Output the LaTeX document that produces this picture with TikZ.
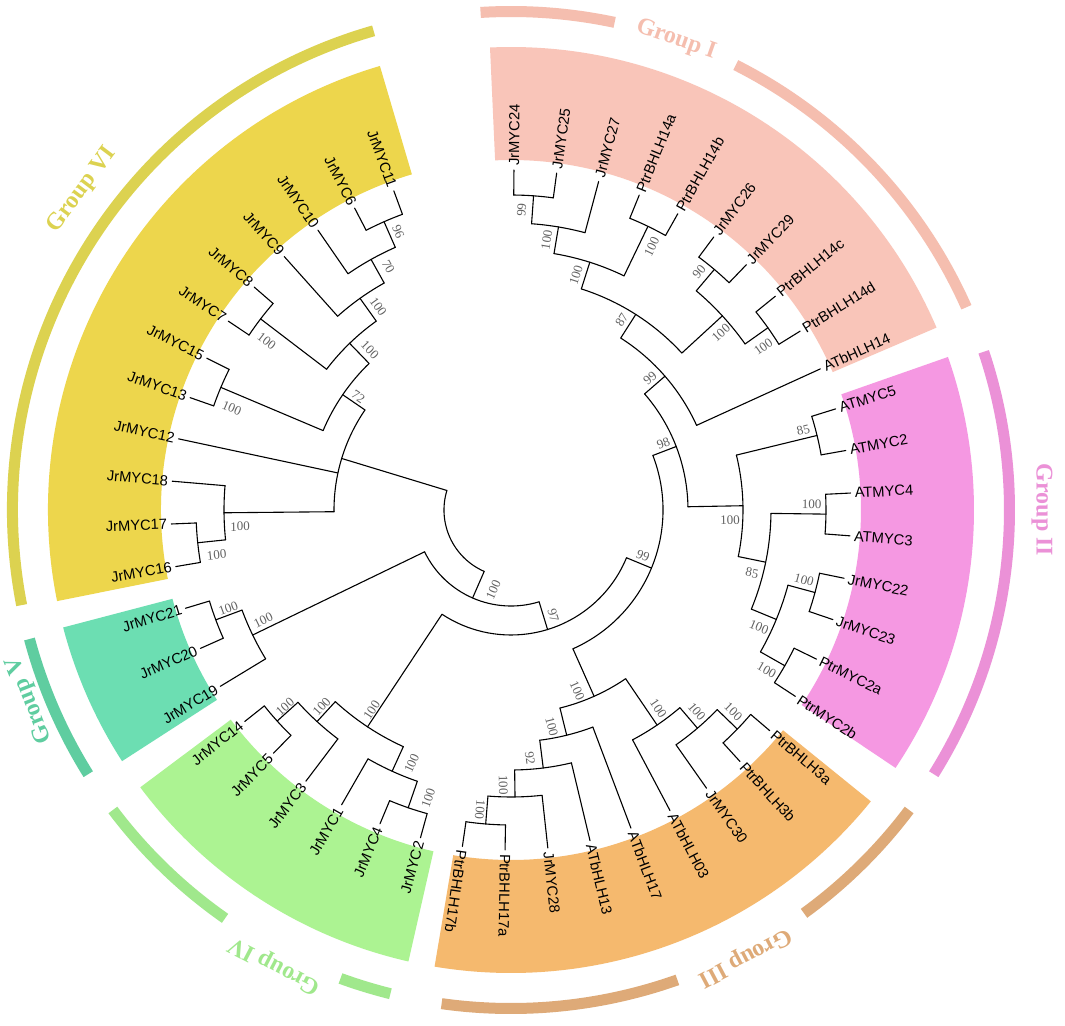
\documentclass[tikz,border=0pt]{standalone}
\usepackage{fontspec}
\setmainfont{Liberation Serif}
\newfontfamily\arial{Liberation Sans}
\definecolor{cI}{RGB}{249,197,185}
\definecolor{cII}{RGB}{245,152,226}
\definecolor{cIII}{RGB}{245,185,110}
\definecolor{cIV}{RGB}{172,243,146}
\definecolor{cV}{RGB}{108,222,178}
\definecolor{cVI}{RGB}{237,214,76}
\definecolor{bI}{RGB}{245,190,175}
\definecolor{bII}{RGB}{235,145,215}
\definecolor{bIII}{RGB}{222,170,120}
\definecolor{bIV}{RGB}{160,232,140}
\definecolor{bV}{RGB}{95,205,160}
\definecolor{bVI}{RGB}{220,210,80}
\newcommand\A[1]{89.5-7.22*(#1)}
\newcommand\nd[5]{%
  \draw[br] ({\A{#1}}:#3pt) -- ({\A{#1}}:#2pt);
  \draw[br] ({\A{#4}}:#2pt) arc[start angle={\A{#4}}, end angle={\A{#5}}, radius=#2pt];}
\newcommand\lfR[4]{%
  \node[leafR, rotate={\A{#2}}] (#1) at ({\A{#2}}:340pt) {#4};
  \draw[br] ({\A{#2}}:#3pt) -- (#1.west);}
\newcommand\lfL[4]{%
  \node[leafL, rotate={\A{#2}+180}] (#1) at ({\A{#2}}:340pt) {#4};
  \draw[br] ({\A{#2}}:#3pt) -- (#1.east);}
\newcommand\bs[5]{%
  \pgfmathsetmacro\bsrot{ifthenelse(#4>26.8,\A{#4}+180,\A{#4})}%
  \node[bst,rotate=\bsrot] (#1) at ({#2-511},{510-#3}) {#5};}
\newcommand\sect[3]{\fill[#1] (#2:350pt) arc[start angle=#2,end angle=#3,radius=350pt] -- (#3:463pt) arc[start angle=#3,end angle=#2,radius=463pt] -- cycle;}
\newcommand\band[3]{\fill[#1] (#2:493pt) arc[start angle=#2,end angle=#3,radius=493pt] -- (#3:504pt) arc[start angle=#3,end angle=#2,radius=504pt] -- cycle;}
\begin{document}
\begin{tikzpicture}[x=1pt,y=1pt,
  br/.style={line width=1.1pt, black, line cap=round, line join=round},
  leafR/.style={anchor=west, inner xsep=4pt, inner ysep=0pt, font=\arial\fontsize{14.7}{16}\selectfont},
  leafL/.style={anchor=east, inner xsep=4pt, inner ysep=0pt, font=\arial\fontsize{14.7}{16}\selectfont},
  bst/.style={inner sep=0pt, text=black!62, font=\fontsize{13}{14}\selectfont},
  grp/.style={inner sep=0pt, font=\bfseries\fontsize{24}{26}\selectfont}]
\useasboundingbox (-511,-515) rectangle (554,510);
\fill[white] (-511,-515) rectangle (554,510);
% coloured sectors
\sect{cI}{23.2}{92.6}
\sect{cII}{-33.85}{19.3}
\sect{cIII}{-99.5}{-39}
\sect{cIV}{-143.2}{-102.8}
\sect{cV}{-165.3}{-147.15}
\sect{cVI}{106.45}{191.35}
% outer bands (gaps where a label sits on the band)
\band{bI}{24}{63.2}
\band{bI}{78}{93.5}
\band{bII}{-32}{18.5}
\band{bIII}{-98}{-70.5}
\band{bIII}{-54}{-37}
\band{bIV}{-143}{-125}
\band{bIV}{-110}{-104}
\band{bV}{-165}{-148}
\band{bVI}{106}{191}
% group labels
\node[grp,text=bI,rotate=-19.4] (gI) at (165,470) {Group I};
\node[grp,text=bII,rotate=-90] (gII) at (531,0) {Group II};
\node[grp,text=bIII,rotate=-152.2] (gIII) at (234,-447) {Group III};
\node[grp,text=bIV,rotate=152.5] (gIV) at (-236,-455) {Group IV};
\node[grp,text=bV,rotate=111.5] (gV) at (-481,-190) {Group V};
\node[grp,text=bVI,rotate=53] (gVI) at (-429,320) {Group VI};
% internal nodes: k r rparent k1 k2
\nd{0.5}{315}{287}{0}{1}
\nd{1.25}{287}{260}{0.5}{2}
\nd{3.5}{315}{260}{3}{4}
\nd{2.375}{260}{232}{1.25}{3.5}
\nd{5.5}{315}{287}{5}{6}
\nd{7.5}{315}{287}{7}{8}
\nd{6.5}{287}{232}{5.5}{7.5}
\nd{4.4375}{232}{204}{2.375}{6.5}
\nd{6.71875}{204}{177}{4.4375}{9}
\nd{9.484375}{177}{152}{6.71875}{12.25}
\nd{10.5}{315}{232}{10}{11}
\nd{12.5}{315}{260}{12}{13}
\nd{14.5}{315}{287}{14}{15}
\nd{16.5}{315}{287}{16}{17}
\nd{15.5}{287}{260}{14.5}{16.5}
\nd{14}{260}{232}{12.5}{15.5}
\nd{12.25}{232}{177}{10.5}{14}
\nd{18.5}{315}{287}{18}{19}
\nd{19.25}{287}{260}{18.5}{20}
\nd{20.125}{260}{204}{19.25}{21}
\nd{25.5}{315}{287}{25}{26}
\nd{24.75}{287}{260}{24}{25.5}
\nd{23.875}{260}{232}{23}{24.75}
\nd{22.9375}{232}{204}{22}{23.875}
\nd{21.53125}{204}{152}{20.125}{22.9375}
\nd{15.5078125}{152}{125}{9.484375}{21.53125}
\nd{27.5}{315}{287}{27}{28}
\nd{28.25}{287}{260}{27.5}{29}
\nd{31.5}{315}{287}{31}{32}
\nd{30.75}{287}{260}{30}{31.5}
\nd{29.5}{260}{125}{28.25}{30.75}
\nd{22.50390625}{125}{96}{15.5078125}{29.5}
\nd{34.5}{315}{287}{34}{35}
\nd{33.75}{287}{96}{33}{34.5}
\nd{28.126953125}{96}{67}{22.50390625}{33.75}
\nd{46.5}{315}{287}{46}{47}
\nd{45.75}{287}{260}{45}{46.5}
\nd{44.875}{260}{232}{44}{45.75}
\nd{42.5}{315}{232}{42}{43}
\nd{43.6875}{232}{204}{42.5}{44.875}
\nd{40.5}{315}{204}{40}{41}
\nd{42.09375}{204}{177}{40.5}{43.6875}
\nd{36.5}{315}{287}{36}{37}
\nd{37.25}{287}{177}{36.5}{38}
\nd{39.671875}{177}{67}{37.25}{42.09375}
\draw[br] ({\A{28.126953125}}:67pt) arc[start angle={\A{28.126953125}}, end angle={\A{39.671875}}, radius=67pt];
% leaves
\lfR{l0}{0}{315}{JrMYC24}
\lfR{l1}{1}{315}{JrMYC25}
\lfR{l2}{2}{287}{JrMYC27}
\lfR{l3}{3}{315}{PtrBHLH14a}
\lfR{l4}{4}{315}{PtrBHLH14b}
\lfR{l5}{5}{315}{JrMYC26}
\lfR{l6}{6}{315}{JrMYC29}
\lfR{l7}{7}{315}{PtrBHLH14c}
\lfR{l8}{8}{315}{PtrBHLH14d}
\lfR{l9}{9}{204}{ATbHLH14}
\lfR{l10}{10}{315}{ATMYC5}
\lfR{l11}{11}{315}{ATMYC2}
\lfR{l12}{12}{315}{ATMYC4}
\lfR{l13}{13}{315}{ATMYC3}
\lfR{l14}{14}{315}{JrMYC22}
\lfR{l15}{15}{315}{JrMYC23}
\lfR{l16}{16}{315}{PtrMYC2a}
\lfR{l17}{17}{315}{PtrMYC2b}
\lfR{l18}{18}{315}{PtrBHLH3a}
\lfR{l19}{19}{315}{PtrBHLH3b}
\lfR{l20}{20}{287}{JrMYC30}
\lfR{l21}{21}{260}{ATbHLH03}
\lfR{l22}{22}{232}{ATbHLH17}
\lfR{l23}{23}{260}{ATbHLH13}
\lfR{l24}{24}{287}{JrMYC28}
\lfR{l25}{25}{315}{PtrBHLH17a}
\lfR{l26}{26}{315}{PtrBHLH17b}
\lfL{l27}{27}{315}{JrMYC2}
\lfL{l28}{28}{315}{JrMYC4}
\lfL{l29}{29}{287}{JrMYC1}
\lfL{l30}{30}{287}{JrMYC3}
\lfL{l31}{31}{315}{JrMYC5}
\lfL{l32}{32}{315}{JrMYC14}
\lfL{l33}{33}{287}{JrMYC19}
\lfL{l34}{34}{315}{JrMYC20}
\lfL{l35}{35}{315}{JrMYC21}
\lfL{l36}{36}{315}{JrMYC16}
\lfL{l37}{37}{315}{JrMYC17}
\lfL{l38}{38}{287}{JrMYC18}
\lfL{l39}{39}{177}{JrMYC12}
\lfL{l40}{40}{315}{JrMYC13}
\lfL{l41}{41}{315}{JrMYC15}
\lfL{l42}{42}{315}{JrMYC7}
\lfL{l43}{43}{315}{JrMYC8}
\lfL{l44}{44}{260}{JrMYC9}
\lfL{l45}{45}{287}{JrMYC10}
\lfL{l46}{46}{315}{JrMYC6}
\lfL{l47}{47}{315}{JrMYC11}
% bootstrap values
\bs{b1}{521.7}{210}{0.5}{99}
\bs{b2}{546.7}{240}{1.25}{100}
\bs{b3}{651.7}{246.7}{3.5}{100}
\bs{b4}{576}{275}{2.375}{100}
\bs{b5}{699}{272}{5.5}{90}
\bs{b6}{763.3}{346.7}{7.5}{100}
\bs{b7}{721}{333}{6.5}{100}
\bs{b8}{621.7}{320}{4.4375}{87}
\bs{b9}{650}{378.3}{6.71875}{99}
\bs{b10}{663.3}{443.3}{9.484375}{98}
\bs{b11}{643}{556}{15.5078125}{99}
\bs{b12}{803.3}{430}{10.5}{85}
\bs{b13}{811.7}{504}{12.5}{100}
\bs{b14}{730}{520}{12.25}{100}
\bs{b15}{752}{573}{14}{85}
\bs{b16}{804}{580}{14.5}{100}
\bs{b17}{759}{627}{15.5}{100}
\bs{b18}{766.7}{670}{16.5}{100}
\bs{b19}{733.3}{711.7}{18.5}{100}
\bs{b20}{696.7}{711.7}{19.25}{100}
\bs{b21}{658.3}{708.3}{20.125}{100}
\bs{b22}{577.3}{690.7}{21.53125}{100}
\bs{b23}{551.7}{726.7}{22.9375}{100}
\bs{b24}{530}{758.3}{23.875}{92}
\bs{b25}{503.3}{785}{24.75}{100}
\bs{b26}{480}{810}{25.5}{100}
\bs{b27}{553.3}{615}{22.50390625}{97}
\bs{b28}{493.3}{590}{28.126953125}{100}
\bs{b29}{285}{706.7}{31.5}{100}
\bs{b30}{321.7}{706.7}{30.75}{100}
\bs{b31}{371.7}{710}{29.5}{100}
\bs{b32}{411.7}{763.3}{28.25}{100}
\bs{b33}{428.3}{798.3}{27.5}{100}
\bs{b34}{228.3}{608.3}{34.5}{100}
\bs{b35}{263.3}{620}{33.75}{100}
\bs{b36}{398.3}{231.7}{46.5}{96}
\bs{b37}{388.3}{266.7}{45.75}{70}
\bs{b38}{378.3}{306.7}{44.875}{100}
\bs{b39}{266.7}{341}{42.5}{100}
\bs{b40}{370}{350}{43.6875}{100}
\bs{b41}{231.7}{408.3}{40.5}{100}
\bs{b42}{358.3}{396.7}{42.09375}{72}
\bs{b43}{216.7}{555}{36.5}{100}
\bs{b44}{240}{526.7}{37.25}{100}
\end{tikzpicture}
\end{document}
